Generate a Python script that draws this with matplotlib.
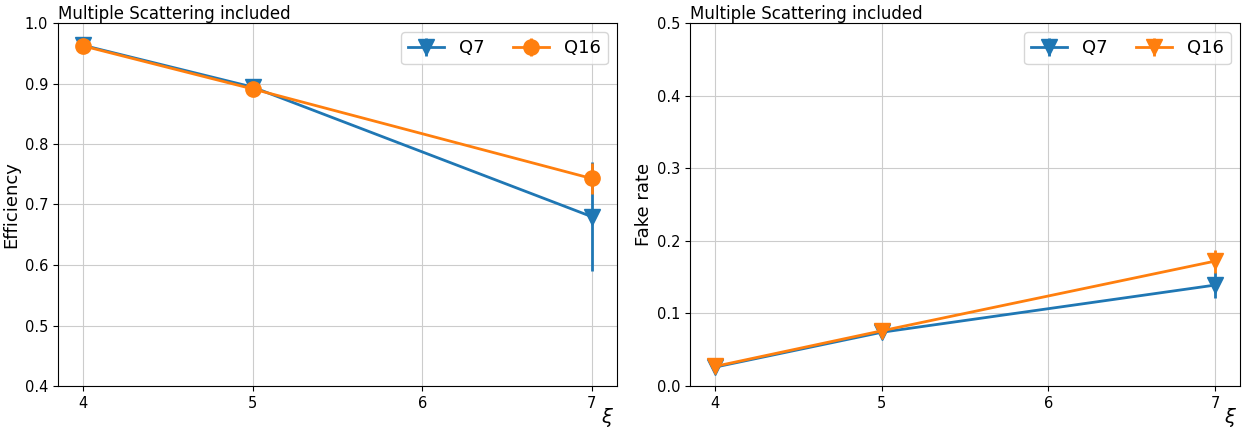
import matplotlib
matplotlib.use("Agg")
import matplotlib.pyplot as plt

xi = [4, 5, 7]
eff_q7 = [0.963, 0.894, 0.680]
eff_q7_err = [0.006, 0.006, 0.090]
eff_q16 = [0.962, 0.891, 0.743]
eff_q16_err = [0.004, 0.005, 0.025]
fake_q7 = [0.026, 0.074, 0.139]
fake_q7_err = [0.003, 0.004, 0.018]
fake_q16 = [0.027, 0.076, 0.172]
fake_q16_err = [0.003, 0.004, 0.016]

fig = plt.figure(figsize=(12.55, 4.29), dpi=100)
ax1 = fig.add_axes([58/1255, 1-386/429, (617-58)/1255, (386-23)/429])
ax2 = fig.add_axes([690/1255, 1-386/429, (1240-690)/1255, (386-23)/429])

c1, c2 = "#1f77b4", "#ff7f0e"

ax1.errorbar(xi, eff_q7, yerr=eff_q7_err, marker="v", color=c1, ms=11, lw=2, label="Q7")
ax1.errorbar(xi, eff_q16, yerr=eff_q16_err, marker="o", color=c2, ms=11, lw=2, label="Q16")
ax1.set_ylim(0.4, 1.0)
ax1.set_ylabel("Efficiency", fontsize=13, labelpad=3)

ax2.errorbar(xi, fake_q7, yerr=fake_q7_err, marker="v", color=c1, ms=11, lw=2, label="Q7")
ax2.errorbar(xi, fake_q16, yerr=fake_q16_err, marker="v", color=c2, ms=11, lw=2, label="Q16")
ax2.set_ylim(0.0, 0.5)
ax2.set_ylabel("Fake rate", fontsize=13, labelpad=3)

for ax in (ax1, ax2):
    ax.set_xticks([4, 5, 6, 7])
    ax.set_xlim(3.85, 7.15)
    ax.grid(True, color="#cccccc")
    ax.tick_params(labelsize=10.5)
    ax.set_title("Multiple Scattering included", loc="left", fontsize=12, pad=3)
    ax.legend(loc="upper right", ncol=2, fontsize=13, columnspacing=1.6)
    ax.set_xlabel(r"$\xi$", fontsize=14, ha="right", va="top")
    ax.xaxis.set_label_coords(0.995, -0.055)

fig.savefig("out.png", dpi=100)
